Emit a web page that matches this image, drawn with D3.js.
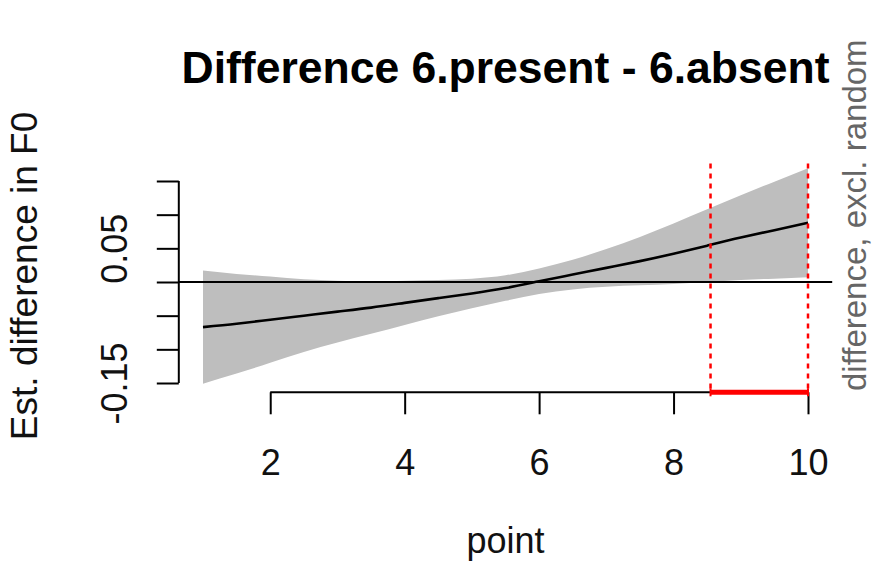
<!DOCTYPE html>
<html>
<head>
<meta charset="utf-8">
<script src="https://cdn.jsdelivr.net/npm/d3@7"></script>
<style>
  html, body { margin: 0; padding: 0; background: #fff; }
  svg { display: block; font-family: "Liberation Sans", Arial, Helvetica, sans-serif; }
</style>
</head>
<body>
<svg id="chart" width="876" height="562"></svg>
<script>
// Smoothed difference curve (6.present - 6.absent) over "point"
const pointX = [1, 1.5, 2, 2.5, 3, 3.5, 4, 4.5, 5, 5.5, 6, 6.5, 7, 7.5, 8, 8.5, 9, 9.5, 10];
const estDiff = [-0.067, -0.062, -0.056, -0.050, -0.044, -0.038, -0.031, -0.024, -0.017, -0.009,
                 0.001, 0.011, 0.021, 0.031, 0.042, 0.054, 0.066, 0.077, 0.088];
const ciHalf = [0.084, 0.074, 0.064, 0.054, 0.046, 0.039, 0.033, 0.027, 0.022, 0.019,
                0.019, 0.022, 0.028, 0.036, 0.045, 0.054, 0.063, 0.072, 0.081];

// Interval where the difference is significantly different from zero
const sigInterval = [8.55, 10];

const xTickValues = [2, 4, 6, 8, 10];
const yTickValues = [-0.15, -0.10, -0.05, 0, 0.05, 0.10, 0.15];
const yTickLabels = ["-0.15", "", "", "", "0.05", "", ""];

const titleText = "Difference 6.present - 6.absent";
const xLabel = "point";
const yLabel = "Est. difference in F0";
const sideNote = "difference, excl. random";

const svg = d3.select("#chart");

const x = d3.scaleLinear().domain([1, 10]).range([203, 808]);
const y = d3.scaleLinear().domain([-0.15, 0.15]).range([383, 181]);

const rows = pointX.map((p, i) => ({
  p, fit: estDiff[i], lo: estDiff[i] - ciHalf[i], hi: estDiff[i] + ciHalf[i]
}));

// plot region with R-style 4% padding around the data range
const xExt = d3.extent(pointX);
const xPad = (xExt[1] - xExt[0]) * 0.04;
const yExt = [d3.min(rows, d => d.lo), d3.max(rows, d => d.hi)];
const yPad = (yExt[1] - yExt[0]) * 0.04;
const region = {
  x0: x(xExt[0] - xPad), x1: x(xExt[1] + xPad),
  y0: y(yExt[1] + yPad), y1: y(yExt[0] - yPad)
};

// confidence band
svg.append("path")
  .datum(rows)
  .attr("fill", "#bebebe")
  .attr("d", d3.area()
    .x(d => x(d.p))
    .y0(d => y(d.lo))
    .y1(d => y(d.hi))
    .curve(d3.curveNatural));

// zero reference line
svg.append("line")
  .attr("x1", region.x0).attr("x2", region.x1)
  .attr("y1", y(0)).attr("y2", y(0))
  .attr("stroke", "#000").attr("stroke-width", 2);

// estimated difference
svg.append("path")
  .datum(rows)
  .attr("fill", "none")
  .attr("stroke", "#000")
  .attr("stroke-width", 2.6)
  .attr("d", d3.line()
    .x(d => x(d.p))
    .y(d => y(d.fit))
    .curve(d3.curveNatural));

// significance markers
svg.selectAll("line.sig")
  .data(sigInterval)
  .enter().append("line")
  .attr("class", "sig")
  .attr("x1", d => x(d)).attr("x2", d => x(d))
  .attr("y1", region.y0 + 4).attr("y2", region.y1)
  .attr("stroke", "#ff0000")
  .attr("stroke-width", 2.5)
  .attr("stroke-dasharray", "5,5");

// x axis
const xAxisG = svg.append("g")
  .attr("transform", `translate(0,${region.y1})`)
  .call(d3.axisBottom(x).tickValues(xTickValues).tickSize(22).tickPadding(28).tickSizeOuter(0));
xAxisG.select(".domain").remove();
xAxisG.append("line")
  .attr("x1", x(xTickValues[0])).attr("x2", x(xTickValues[xTickValues.length - 1]))
  .attr("stroke", "#000").attr("stroke-width", 2);
xAxisG.selectAll(".tick line").attr("stroke", "#000").attr("stroke-width", 2);
xAxisG.selectAll(".tick text")
  .attr("fill", "#111")
  .attr("font-size", 36)
  .attr("font-family", "Liberation Sans, Arial, sans-serif")
  .attr("dy", null)
  .attr("y", 83);

// significant interval along the x axis
svg.append("line")
  .attr("x1", x(sigInterval[0])).attr("x2", x(sigInterval[1]))
  .attr("y1", region.y1).attr("y2", region.y1)
  .attr("stroke", "#ff0000").attr("stroke-width", 5);
sigInterval.forEach(v => {
  svg.append("line")
    .attr("x1", x(v)).attr("x2", x(v))
    .attr("y1", region.y1 - 4).attr("y2", region.y1 + 4)
    .attr("stroke", "#ff0000").attr("stroke-width", 2);
});

// y axis
const yAxisG = svg.append("g")
  .attr("transform", `translate(${region.x0},0)`)
  .call(d3.axisLeft(y).tickValues(yTickValues).tickSize(22).tickSizeOuter(0)
    .tickFormat((d, i) => yTickLabels[i]));
yAxisG.select(".domain").remove();
yAxisG.append("line")
  .attr("y1", y(yTickValues[0])).attr("y2", y(yTickValues[yTickValues.length - 1]))
  .attr("stroke", "#000").attr("stroke-width", 2);
yAxisG.selectAll(".tick line").attr("stroke", "#000").attr("stroke-width", 2);
yAxisG.selectAll(".tick text")
  .attr("fill", "#111")
  .attr("font-size", 36)
  .attr("font-family", "Liberation Sans, Arial, sans-serif")
  .attr("x", null).attr("dy", null)
  .attr("text-anchor", "middle")
  .attr("transform", "translate(-52,0) rotate(-90)");

// title
svg.append("text")
  .attr("x", (region.x0 + region.x1) / 2)
  .attr("y", 83)
  .attr("text-anchor", "middle")
  .attr("font-size", 44.5)
  .attr("font-weight", "bold")
  .attr("fill", "#000")
  .text(titleText);

// axis titles
svg.append("text")
  .attr("x", (region.x0 + region.x1) / 2)
  .attr("y", 553)
  .attr("text-anchor", "middle")
  .attr("font-size", 36)
  .attr("fill", "#111")
  .text(xLabel);

svg.append("text")
  .attr("transform", `translate(37,${(region.y0 + region.y1) / 2}) rotate(-90)`)
  .attr("text-anchor", "middle")
  .attr("font-size", 37)
  .attr("fill", "#111")
  .text(yLabel);

// side note on the right margin
svg.append("text")
  .attr("transform", `translate(866,391) rotate(-90)`)
  .attr("text-anchor", "start")
  .attr("font-size", 33)
  .attr("fill", "#666")
  .text(sideNote);
</script>
</body>
</html>
